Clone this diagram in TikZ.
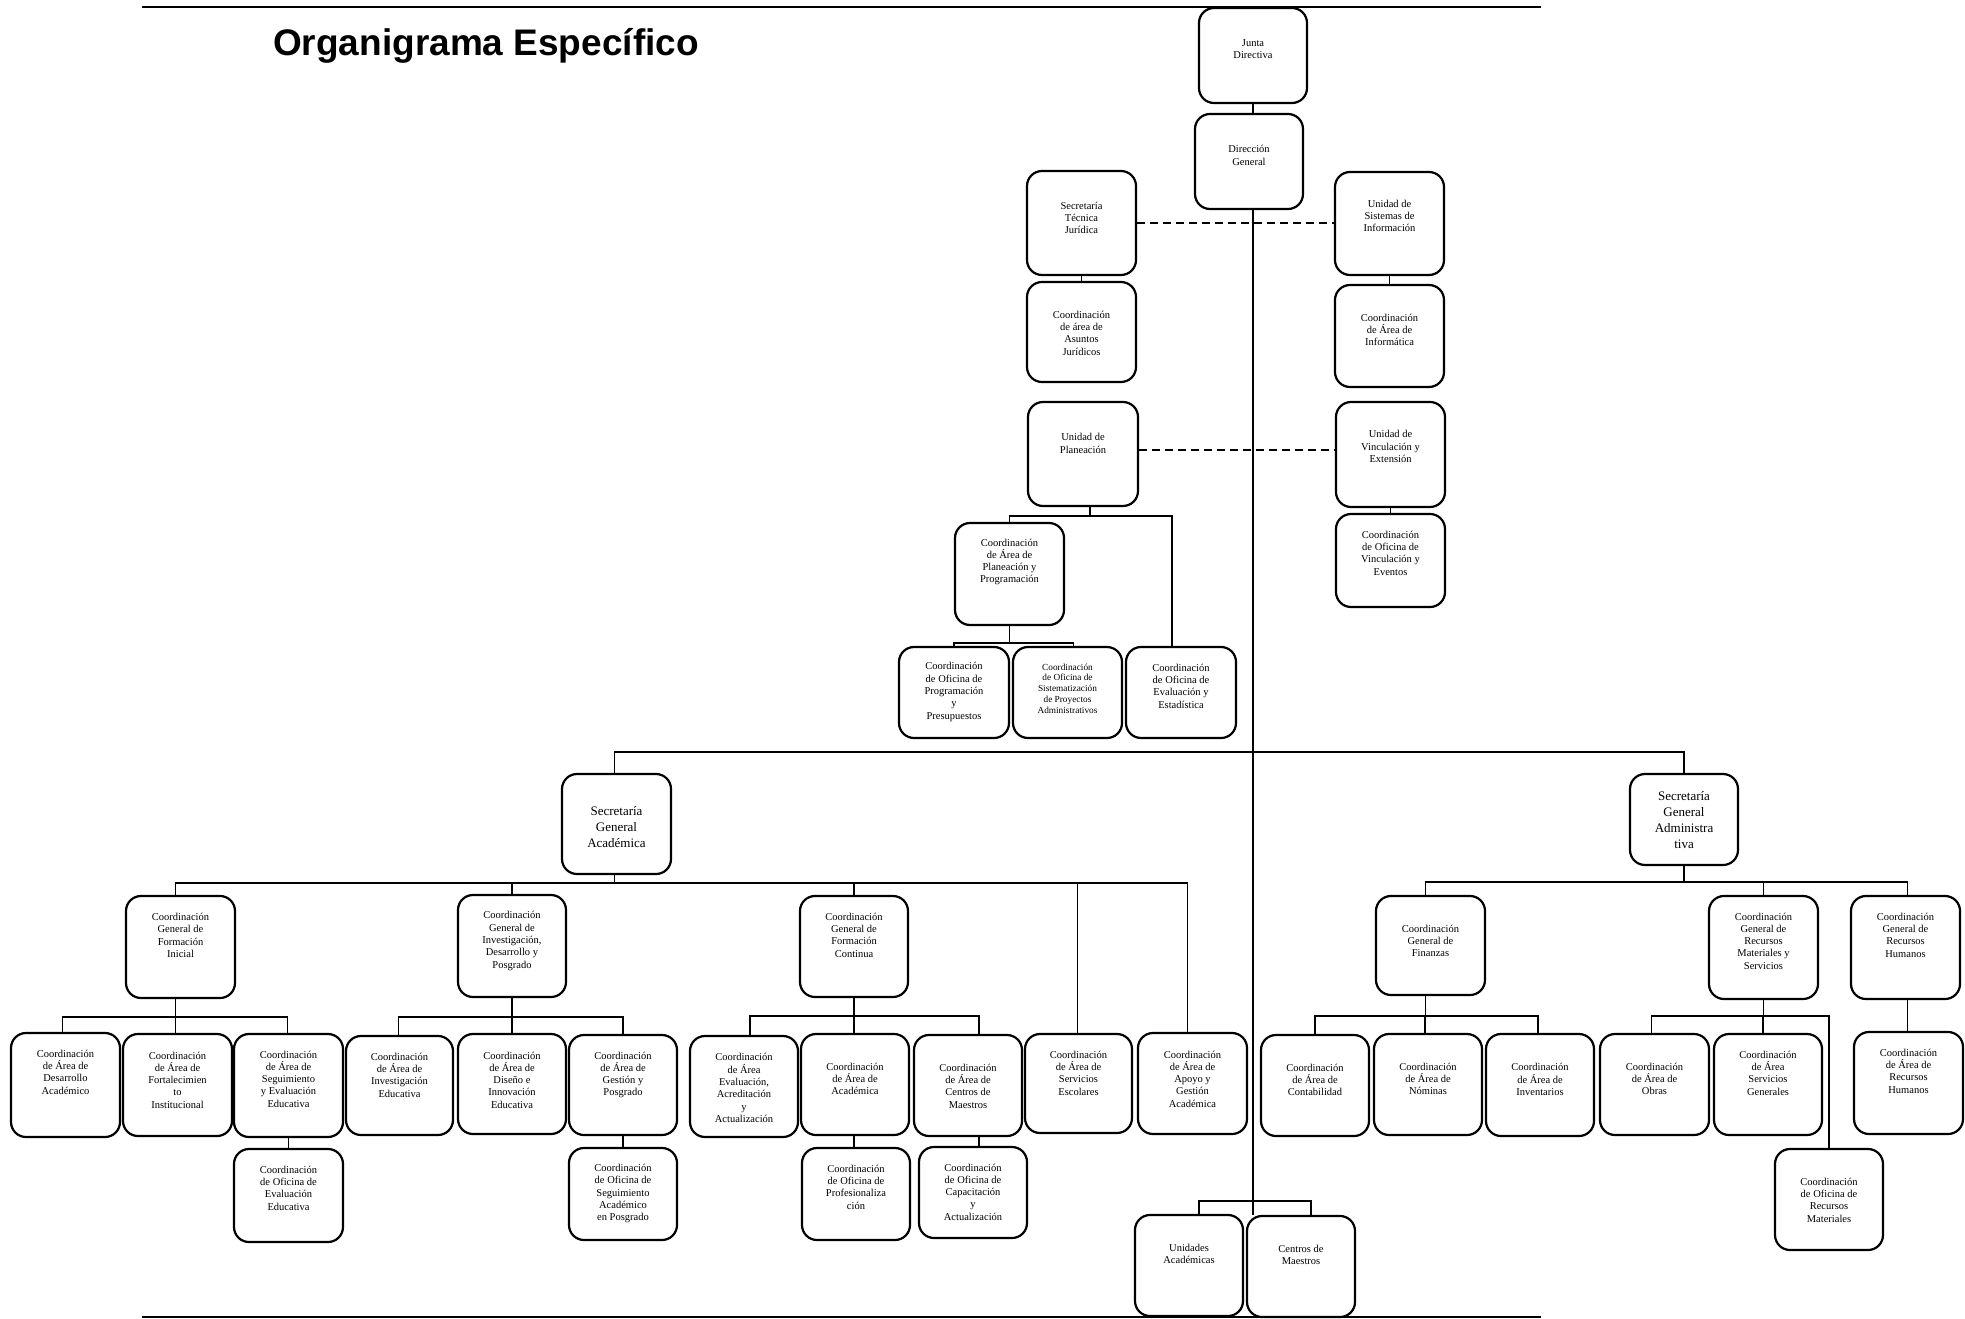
\documentclass[tikz,border=0pt]{standalone}
\usepackage{fontspec}
\setmainfont{Liberation Serif}
\newfontfamily\titlefont{Liberation Sans}
\usetikzlibrary{fit}
\tikzset{
  orgbox/.style={draw, line width=2.2pt, rounded corners=15pt, inner sep=0pt},
  lbl/.style={align=center, inner sep=0pt, font=\fontsize{10.5}{12.3}\selectfont},
  lblsmall/.style={lbl, font=\fontsize{9.3}{10.7}\selectfont},
  lblbig/.style={lbl, font=\fontsize{13}{15.8}\selectfont},
  conn/.style={line width=1.8pt},
  dashconn/.style={line width=2pt, dash pattern=on 8pt off 5pt},
  rulestyle/.style={line width=2pt}
}
% name, x1, y1, x2, y2, text-centre y, text
\newcommand\orgnode[8][lbl]{%
  \node[orgbox, fit={(#3,#4) (#5,#6)}] (#2) {};
  \node[#1] (#2-t) at (#2.center |- 0,#7) {#8};
}
\begin{document}
\begin{tikzpicture}[x=1pt, y=-1pt]
\fill[white] (0,0) rectangle (1965,1319);
\useasboundingbox (0,0) rectangle (1965,1319);

\draw[rulestyle] (142,7) -- (1541,7);
\draw[rulestyle] (142,1317) -- (1541,1317);

\node[anchor=base west, inner sep=0pt, font=\titlefont\bfseries\fontsize{37}{42}\selectfont] (title) at (273,56) {Organigrama Específico};

% top part
\orgnode{JD}{1199}{8}{1307}{103}{49}{Junta\\Directiva}
\orgnode{DG}{1195}{114}{1303}{209}{155.5}{Dirección\\General}
\orgnode{STJ}{1027}{171}{1136}{275}{218}{Secretaría\\Técnica\\Jurídica}
\orgnode{AJ}{1027}{282}{1136}{382}{333}{Coordinación\\de área de\\Asuntos\\Jurídicos}
\orgnode{USI}{1335}{172}{1444}{275}{216}{Unidad de\\Sistemas de\\Información}
\orgnode{AI}{1335}{285}{1444}{387}{330}{Coordinación\\de Área de\\Informática}
\orgnode{UP}{1028}{402}{1138}{506}{443.5}{Unidad de\\Planeación}
\orgnode{UV}{1336}{402}{1445}{507}{446.5}{Unidad de\\Vinculación y\\Extensión}
\orgnode{OV}{1336}{514}{1445}{607}{553}{Coordinación\\de Oficina de\\Vinculación y\\Eventos}
\orgnode{CP}{955}{523}{1064}{625}{562}{Coordinación\\de Área de\\Planeación y\\Programación}
\orgnode{PP}{899}{647}{1009}{738}{692}{Coordinación\\de Oficina de\\Programación\\y\\Presupuestos}
\orgnode[lblsmall]{SP}{1013}{647}{1122}{738}{688.5}{Coordinación\\de Oficina de\\Sistematización\\de Proyectos\\Administrativos}
\orgnode{EE}{1126}{647}{1236}{738}{686}{Coordinación\\de Oficina de\\Evaluación y\\Estadística}

% secretarias generales
\orgnode[lblbig]{SGA}{562}{774}{671}{874}{827}{Secretaría\\General\\Académica}
\orgnode[lblbig]{SGD}{1630}{774}{1738}{865}{820}{Secretaría\\General\\Administra\\tiva}

% academic branch
\orgnode{FI}{126}{896}{235}{998}{935.5}{Coordinación\\General de\\Formación\\Inicial}
\orgnode{CI}{458}{895}{566}{997}{941}{Coordinación\\General de\\Investigación,\\Desarrollo y\\Posgrado}
\orgnode{FC}{800}{896}{908}{997}{935}{Coordinación\\General de\\Formación\\Continua}
\orgnode{SE}{1025}{1034}{1132}{1133}{1073}{Coordinación\\de Área de\\Servicios\\Escolares}
\orgnode{AG}{1138}{1033}{1247}{1134}{1079}{Coordinación\\de Área de\\Apoyo y\\Gestión\\Académica}

\orgnode{DA}{11}{1033}{120}{1137}{1072}{Coordinación\\de Área de\\Desarrollo\\Académico}
\orgnode{FO}{123}{1034}{232}{1136}{1080}{Coordinación\\de Área de\\Fortalecimien\\to\\Institucional}
\orgnode{SEV}{234}{1034}{343}{1137}{1079}{Coordinación\\de Área de\\Seguimiento\\y Evaluación\\Educativa}
\orgnode{OEE}{234}{1149}{343}{1242}{1188}{Coordinación\\de Oficina de\\Evaluación\\Educativa}
\orgnode{IE}{346}{1036}{453}{1135}{1075}{Coordinación\\de Área de\\Investigación\\Educativa}
\orgnode{DI}{458}{1034}{566}{1134}{1080}{Coordinación\\de Área de\\Diseño e\\Innovación\\Educativa}
\orgnode{GP}{569}{1035}{677}{1135}{1075}{Coordinación\\de Área de\\Gestión y\\Posgrado}
\orgnode{OSP}{569}{1148}{677}{1240}{1193.5}{Coordinación\\de Oficina de\\Seguimiento\\Académico\\en Posgrado}
\orgnode{EA}{690}{1036}{798}{1137}{1088}{Coordinación\\de Área\\Evaluación,\\Acreditación\\y\\Actualización}
\orgnode{AC}{801}{1034}{909}{1135}{1079}{Coordinación\\de Área de\\Académica}
\orgnode{CMA}{914}{1035}{1022}{1136}{1086}{Coordinación\\de Área de\\Centros de\\Maestros}
\orgnode{OPR}{802}{1148}{910}{1240}{1187}{Coordinación\\de Oficina de\\Profesionaliza\\ción}
\orgnode{OCA}{919}{1147}{1027}{1238}{1192}{Coordinación\\de Oficina de\\Capacitación\\y\\Actualización}

% administrative branch
\orgnode{CGF}{1376}{896}{1485}{995}{941}{Coordinación\\General de\\Finanzas}
\orgnode{RMS}{1709}{896}{1818}{999}{941}{Coordinación\\General de\\Recursos\\Materiales y\\Servicios}
\orgnode{RH}{1851}{896}{1960}{999}{935}{Coordinación\\General de\\Recursos\\Humanos}
\orgnode{CO}{1261}{1035}{1369}{1136}{1080}{Coordinación\\de Área de\\Contabilidad}
\orgnode{NO}{1374}{1034}{1482}{1135}{1079}{Coordinación\\de Área de\\Nóminas}
\orgnode{IN}{1486}{1034}{1594}{1136}{1079.5}{Coordinación\\de Área de\\Inventarios}
\orgnode{OB}{1600}{1034}{1709}{1135}{1079}{Coordinación\\de Área de\\Obras}
\orgnode{SG}{1714}{1034}{1822}{1135}{1073}{Coordinación\\de Área\\Servicios\\Generales}
\orgnode{ORM}{1775}{1149}{1883}{1250}{1200}{Coordinación\\de Oficina de\\Recursos\\Materiales}
\orgnode{RHA}{1854}{1032}{1963}{1134}{1071}{Coordinación\\de Área de\\Recursos\\Humanos}

% bottom units
\orgnode{UA}{1135}{1215}{1243}{1316}{1254}{Unidades\\Académicas}
\orgnode{CM}{1247}{1216}{1355}{1317}{1255}{Centros de\\Maestros}

% ---------- connectors ----------
\draw[conn] (JD.south) -- (JD.south |- DG.north);
\draw[conn] (JD.south |- DG.south) -- (JD.south |- CM.north);
\draw[dashconn] (STJ.east) -- (STJ.east -| USI.west);
\draw[dashconn] ([yshift=4pt]UP.east) -- ([yshift=4pt]UP.east -| UV.west);
\draw[conn] (STJ) -- (AJ);
\draw[conn] (USI) -- (AI);
\draw[conn] (UV) -- (OV);

\draw[conn] ([xshift=7pt]UP.south) -- ++(0,9) -| (CP.north);
\draw[conn] ([xshift=7pt]UP.south) -- ++(0,9) -| ([xshift=-9pt]EE.north);
\draw[conn] (CP.south) -- ++(0,17) -| (PP.north);
\draw[conn] (CP.south) -- ++(0,17) -| ([xshift=6pt]SP.north);

\coordinate (hub) at (JD.south |- 0,752);
\draw[conn] (hub) -| ([xshift=-2pt]SGA.north);
\draw[conn] (hub) -| (SGD.north);

\draw[conn] ([xshift=-2pt]SGA.south) -- ++(0,8) -| ([xshift=-5pt]FI.north);
\draw[conn] ([xshift=-2pt]SGA.south) -- ++(0,8) -| (CI.north);
\draw[conn] ([xshift=-2pt]SGA.south) -- ++(0,8) -| (FC.north);
\draw[conn] ([xshift=-2pt]SGA.south) -- ++(0,8) -| ([xshift=-1pt]SE.north);
\draw[conn] ([xshift=-2pt]SGA.south) -- ++(0,8) -| ([xshift=-5pt]AG.north);

\draw[conn] ([xshift=-5pt]FI.south) -- ++(0,18) -| ([xshift=-3pt]DA.north);
\draw[conn] ([xshift=-5pt]FI.south) -- ++(0,18) -| ([xshift=-2pt]FO.north);
\draw[conn] ([xshift=-5pt]FI.south) -- ++(0,18) -| ([xshift=-1pt]SEV.north);
\draw[conn] (SEV) -- (OEE);

\draw[conn] (CI.south) -- ++(0,19) -| ([xshift=-1pt]IE.north);
\draw[conn] (CI.south) -- ++(0,19) -| (DI.north);
\draw[conn] (CI.south) -- ++(0,19) -| (GP.north);
\draw[conn] (GP) -- (OSP);

\draw[conn] (FC.south) -- ++(0,18) -| ([xshift=6pt]EA.north);
\draw[conn] (FC.south) -- ++(0,18) -| ([xshift=-1pt]AC.north);
\draw[conn] (FC.south) -- ++(0,18) -| ([xshift=11pt]CMA.north);
\draw[conn] ([xshift=-1pt]AC.south) -- ++(0,13);
\draw[conn] ([xshift=11pt]CMA.south) -- ++(0,11);

\draw[conn] (SGD.south) -- ++(0,16) -| ([xshift=-5pt]CGF.north);
\draw[conn] (SGD.south) -- ++(0,16) -| (RMS.north);
\draw[conn] (SGD.south) -- ++(0,16) -| ([xshift=2pt]RH.north);

\draw[conn] ([xshift=-5pt]CGF.south) -- ++(0,20) -| (CO.north);
\draw[conn] ([xshift=-5pt]CGF.south) -- ++(0,20) -| ([xshift=-3pt]NO.north);
\draw[conn] ([xshift=-5pt]CGF.south) -- ++(0,20) -| ([xshift=-2pt]IN.north);

\draw[conn] (RMS.south) -- ++(0,16) -| ([xshift=-3pt]OB.north);
\draw[conn] (RMS.south) -- ++(0,16) -| ([xshift=-5pt]SG.north);
\draw[conn] (RMS.south) -- ++(0,16) -| (ORM.north);
\draw[conn] ([xshift=2pt]RH.south) -- ++(0,33);

\coordinate (uhub) at (JD.south |- 0,1201);
\draw[conn] (uhub) -| ([xshift=10pt]UA.north);
\draw[conn] (uhub) -| ([xshift=10pt]CM.north);
\end{tikzpicture}
\end{document}
